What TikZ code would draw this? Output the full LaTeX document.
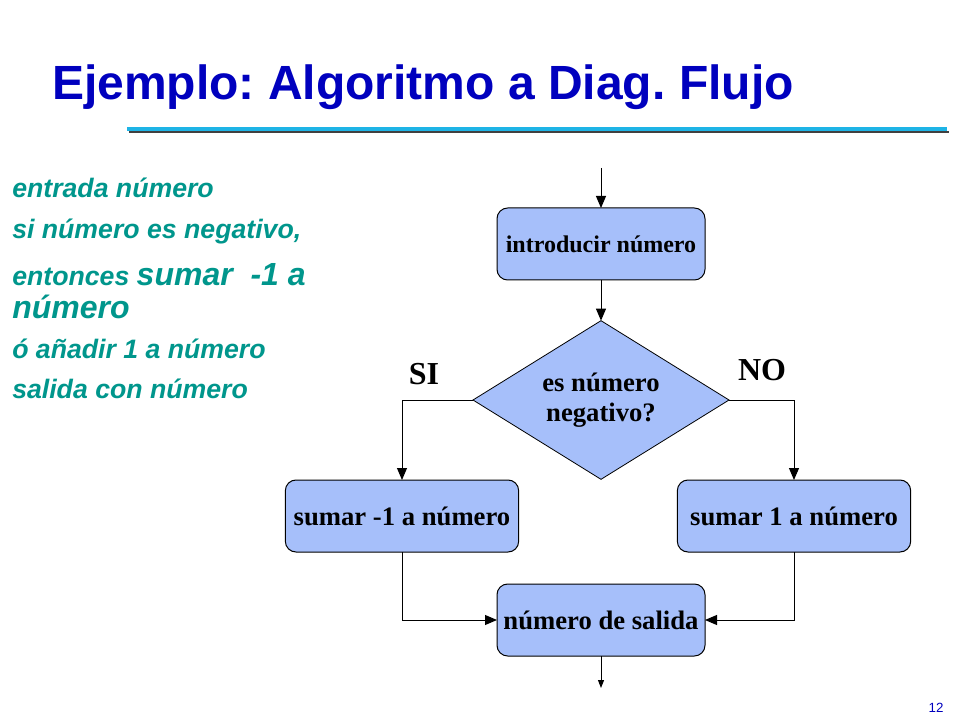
\documentclass[tikz,border=0pt]{standalone}
\usepackage{fontspec}
\setmainfont{Liberation Serif}
\setsansfont{Liberation Sans}
\usepackage{xcolor}
\usetikzlibrary{shapes.geometric,arrows.meta}

\definecolor{cajaazul}{RGB}{166,191,250}
\definecolor{tituloazul}{RGB}{0,0,190}
\definecolor{rayacian}{RGB}{30,180,230}
\definecolor{textoverde}{RGB}{0,150,140}

\tikzset{
  caja/.style={draw=black, fill=cajaazul, rounded corners=8pt, line width=0.75pt,
    minimum width=156pt, minimum height=54pt, inner sep=2pt, outer sep=0pt,
    font=\fontsize{20}{24}\selectfont\bfseries},
  rombo/.style={draw=black, fill=cajaazul, diamond, shape aspect=1.61, line width=0.6pt,
    align=center, minimum width=192pt, minimum height=119pt, inner sep=0pt, outer sep=0pt,
    font=\fontsize{20}{22.5}\selectfont\bfseries},
  flecha/.style={line width=0.75pt, -{Triangle[length=9pt,width=7.5pt]}},
  rotulo/.style={font=\fontsize{24}{28}\selectfont\bfseries},
  linea/.style={anchor=base west, inner sep=0pt, text=textoverde,
    font=\fontsize{20}{24}\sffamily\bfseries\itshape}
}

\begin{document}
\frenchspacing
\begin{tikzpicture}[x=0.75pt,y=-0.75pt]
    \useasboundingbox (0,0) rectangle (960,720);

    % Title and its rule
    \node[anchor=base west, inner sep=0pt, text=tituloazul,
          font=\fontsize{36}{40}\sffamily\bfseries] (titulo) at (52,100)
          {Ejemplo: Algoritmo a Diag. Flujo};
    \draw[line width=1.5pt, black!75] (129,132) -- (949,132);
    \draw[line width=3pt, rayacian] (127,129) -- (947,129);

    % Algorithm in words
    \node[linea] (l1) at (12,198) {entrada número};
    \node[linea] (l2) at (12,239) {si número es negativo,};
    \node[linea] (l3) at (12,286) {entonces {\fontsize{24}{28}\selectfont sumar\ \ -1 a}};
    \node[linea, font=\fontsize{24}{28}\sffamily\bfseries\itshape] (l4) at (12,318) {número};
    \node[linea] (l5) at (12,358) {ó añadir 1 a número};
    \node[linea] (l6) at (12,398) {salida con número};

    % Flow chart
    \coordinate (inicio) at (601,168);
    \node[caja, font=\fontsize{18}{22}\selectfont\bfseries] (intro) at (601,244) {introducir número};
    \node[rombo] (decision) at (601,400) {es número\\negativo?};
    \node[caja, minimum width=175pt] (sumneg) at (402,516) {sumar -1 a número};
    \node[caja, minimum width=175pt] (sumpos) at (794,516) {sumar 1 a número};
    \node[caja] (salida) at (601,620) {número de salida};
    \coordinate (fin) at (601,688);

    \node[rotulo] (si) at (424,374) {SI};
    \node[rotulo] (no) at (762,370) {NO};

    % Connectors
    \draw[flecha] (inicio) -- (intro);
    \draw[flecha] (intro) -- (decision);
    \draw[flecha] (decision.west) -| (sumneg.north);
    \draw[flecha] (decision.east) -| (sumpos.north);
    \draw[flecha] (sumneg.south) |- (salida.west);
    \draw[flecha] (sumpos.south) |- (salida.east);
    \draw[line width=0.75pt, -{Triangle[length=6pt,width=4.5pt]}] (salida) -- (fin);

    % Page number
    \node[text=tituloazul, font=\fontsize{10}{12}\sffamily] (pagina) at (936,708) {12};
\end{tikzpicture}
\end{document}
